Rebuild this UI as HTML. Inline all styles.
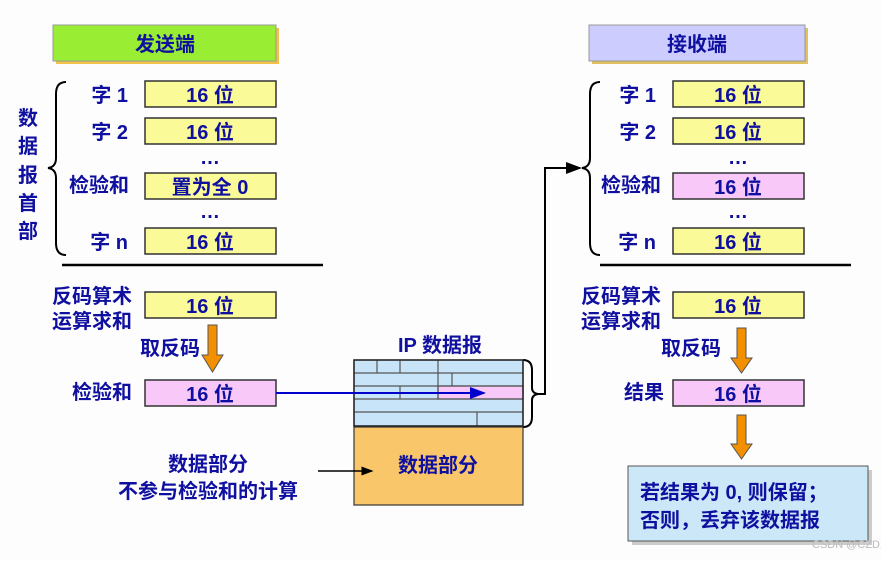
<!DOCTYPE html>
<html><head><meta charset="utf-8"><style>
body{margin:0;background:#fdfdfd;}
svg text{font-family:"Liberation Sans","Noto Sans CJK SC",sans-serif;font-weight:bold;fill:#1010a0;}
</style></head><body>
<svg width="881" height="556" xmlns="http://www.w3.org/2000/svg">
<defs><marker id="a" markerWidth="8" markerHeight="8" refX="7" refY="4" orient="auto"><path d="M0,1 L8,4 L0,7z" fill="#000"/></marker>
<marker id="ab" markerWidth="8" markerHeight="8" refX="7" refY="4" orient="auto"><path d="M0,1 L8,4 L0,7z" fill="#00c"/></marker></defs>
<rect x="0" y="0" width="881" height="556" fill="#fdfdfd"/>
<!-- titles -->
<rect x="56" y="28" width="223" height="36" fill="#f2c14a"/>
<rect x="53" y="25" width="223" height="36" fill="#99ee33" stroke="#999"/>
<text x="165" y="51" font-size="20" text-anchor="middle">发送端</text>
<rect x="592" y="28" width="216" height="36" fill="#e0c060"/>
<rect x="589" y="25" width="216" height="36" fill="#ccccff" stroke="#999"/>
<text x="697" y="51" font-size="20" text-anchor="middle">接收端</text>
<!-- left rows -->
<g font-size="20">
<g stroke="#333" stroke-width="1.5">
<rect x="145" y="81" width="131" height="26" fill="#fafa99"/>
<rect x="145" y="118" width="131" height="26" fill="#fafa99"/>
<rect x="145" y="173" width="131" height="26" fill="#fafa99"/>
<rect x="145" y="228" width="131" height="26" fill="#fafa99"/>
<rect x="145" y="292" width="131" height="26" fill="#fafa99"/>
<rect x="145" y="380" width="131" height="26" fill="#f8c8f8"/>
<rect x="673" y="81" width="131" height="26" fill="#fafa99"/>
<rect x="673" y="118" width="131" height="26" fill="#fafa99"/>
<rect x="673" y="173" width="131" height="26" fill="#f8c8f8"/>
<rect x="673" y="228" width="131" height="26" fill="#fafa99"/>
<rect x="673" y="292" width="131" height="26" fill="#fafa99"/>
<rect x="673" y="380" width="131" height="26" fill="#f8c8f8"/>
</g>
<text x="210" y="102" text-anchor="middle">16 位</text>
<text x="210" y="139" text-anchor="middle">16 位</text>
<text x="210" y="194" text-anchor="middle">置为全 0</text>
<text x="210" y="249" text-anchor="middle">16 位</text>
<text x="210" y="313" text-anchor="middle">16 位</text>
<text x="210" y="401" text-anchor="middle">16 位</text>
<text x="738" y="102" text-anchor="middle">16 位</text>
<text x="738" y="139" text-anchor="middle">16 位</text>
<text x="738" y="194" text-anchor="middle">16 位</text>
<text x="738" y="249" text-anchor="middle">16 位</text>
<text x="738" y="313" text-anchor="middle">16 位</text>
<text x="738" y="401" text-anchor="middle">16 位</text>
<text x="210" y="164" text-anchor="middle">…</text>
<text x="210" y="218" text-anchor="middle">…</text>
<text x="738" y="164" text-anchor="middle">…</text>
<text x="738" y="218" text-anchor="middle">…</text>
<text x="128" y="102" text-anchor="end">字 1</text>
<text x="128" y="139" text-anchor="end">字 2</text>
<text x="129" y="192" text-anchor="end">检验和</text>
<text x="128" y="249" text-anchor="end">字 n</text>
<text x="656" y="102" text-anchor="end">字 1</text>
<text x="656" y="139" text-anchor="end">字 2</text>
<text x="661" y="192" text-anchor="end">检验和</text>
<text x="656" y="249" text-anchor="end">字 n</text>
<text x="132" y="303" text-anchor="end">反码算术</text>
<text x="132" y="328" text-anchor="end">运算求和</text>
<text x="661" y="303" text-anchor="end">反码算术</text>
<text x="661" y="328" text-anchor="end">运算求和</text>
<text x="200" y="355" text-anchor="end">取反码</text>
<text x="721" y="355" text-anchor="end">取反码</text>
<text x="132" y="399" text-anchor="end">检验和</text>
<text x="664" y="399" text-anchor="end">结果</text>
<text x="28" y="125" text-anchor="middle">数</text>
<text x="28" y="153" text-anchor="middle">据</text>
<text x="28" y="182" text-anchor="middle">报</text>
<text x="28" y="210" text-anchor="middle">首</text>
<text x="28" y="238" text-anchor="middle">部</text>
<text x="440" y="352" text-anchor="middle">IP 数据报</text>
<text x="208" y="471" text-anchor="middle">数据部分</text>
<text x="208" y="498" text-anchor="middle">不参与检验和的计算</text>
</g>
<!-- braces -->
<g fill="none" stroke="#000" stroke-width="2">
<path d="M66,82 Q56,82 56,94 L56,158 Q56,167 48,168 Q56,169 56,178 L56,243 Q56,255 66,255"/>
<path d="M600,82 Q590,82 590,94 L590,158 Q590,167 582,168 Q590,169 590,178 L590,243 Q590,255 600,255"/>
<path d="M523,360 Q532,360 532,370 L532,388 Q532,393 538,394 Q532,395 532,400 L532,417 Q532,427 523,427"/>
<path d="M538,394 L545,394 L545,168 L580,168" marker-end="url(#a)"/>
</g>
<line x1="62" y1="265" x2="323" y2="265" stroke="#000" stroke-width="2.5"/>
<line x1="600" y1="265" x2="851" y2="265" stroke="#000" stroke-width="2.5"/>
<!-- IP datagram -->
<g stroke="#555" stroke-width="1.2">
<rect x="354" y="360" width="169" height="66" fill="#c8e4f8"/>
<rect x="438" y="386" width="85" height="13" fill="#f8c8f8"/>
<line x1="354" y1="373" x2="523" y2="373"/><line x1="354" y1="386" x2="523" y2="386"/>
<line x1="354" y1="399" x2="523" y2="399"/><line x1="354" y1="412" x2="523" y2="412"/>
<line x1="377" y1="360" x2="377" y2="373"/><line x1="400" y1="360" x2="400" y2="373"/>
<line x1="438" y1="360" x2="438" y2="399"/><line x1="452" y1="373" x2="452" y2="386"/>
<line x1="400" y1="386" x2="400" y2="399"/><line x1="477" y1="412" x2="477" y2="426"/>
</g>
<rect x="354" y="360" width="169" height="66" fill="none" stroke="#222" stroke-width="1.5"/>
<rect x="354" y="427" width="169" height="78" fill="#f9c66a" stroke="#333" stroke-width="1.2"/>
<text x="438" y="472" font-size="20" text-anchor="middle">数据部分</text>
<line x1="276" y1="393" x2="484" y2="393" stroke="#00c" stroke-width="2" marker-end="url(#ab)"/>
<line x1="318" y1="471" x2="372" y2="471" stroke="#000" stroke-width="1.5" marker-end="url(#a)"/>
<!-- orange arrows -->
<g fill="#f39000" stroke="#555" stroke-width="1">
<path d="M208,325 h9 v30 h6 l-10.5,17 l-10.5,-17 h6z"/>
<path d="M737,328 h9 v30 h6 l-10.5,15 l-10.5,-15 h6z"/>
<path d="M737,415 h9 v29 h6 l-10.5,15 l-10.5,-15 h6z"/>
</g>
<!-- result box -->
<rect x="632" y="470" width="240" height="75" fill="#ccc"/>
<rect x="628" y="466" width="240" height="75" fill="#cce8f8" stroke="#555"/>
<text x="640" y="499" font-size="20">若结果为 0, 则保留；</text>
<text x="640" y="527" font-size="20">否则，丢弃该数据报</text>
<text x="812" y="548" font-size="11" style="font-weight:normal;fill:#bbb">CSDN @CZDXWX</text>
</svg>
</body></html>
